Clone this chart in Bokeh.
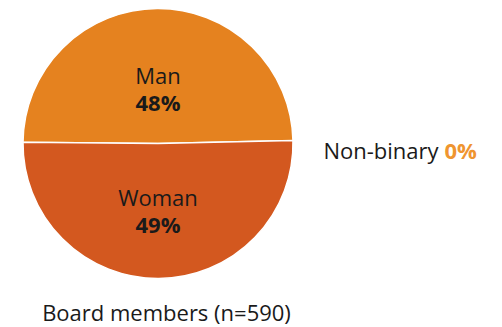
from math import pi

from bokeh.core.properties import value
from bokeh.embed import file_html
from bokeh.models import ColumnDataSource, Range1d
from bokeh.plotting import figure
from bokeh.resources import INLINE

# Share of board members by gender (percent)
categories = ["Man", "Woman", "Non-binary"]
shares = [48, 49, 0]
colors = ["#E5821F", "#D3581F", "#EF9530"]
sample_size = 590

W, H = 502, 327
cx, cy, radius = 157.5, H - 143, 135

total = sum(shares)
start = 1.3 * pi / 180  # slight rotation of the first slice
data = dict(cat=[], share=[], color=[], start=[], end=[])
a = start
for c, s, col in zip(categories, shares, colors):
    sweep = 2 * pi * s / total
    if s > 0:  # an empty slice would otherwise render as a full disc
        data["cat"].append(c)
        data["share"].append(s)
        data["color"].append(col)
        data["start"].append(a)
        data["end"].append(a + sweep)
    a += sweep

src = ColumnDataSource(data)

p = figure(width=W, height=H, output_backend="svg", toolbar_location=None,
           x_range=Range1d(0, W), y_range=Range1d(0, H), min_border=0,
           outline_line_color=None, background_fill_color="white",
           border_fill_color="white")
p.axis.visible = False
p.grid.visible = False

p.wedge(x=cx, y=cy, radius=radius, start_angle="start", end_angle="end",
        fill_color="color", line_color="white", line_width=1.5, source=src)

font = value("Open Sans")
fs = "22px"
dy = 9  # baseline correction
# Slice labels: name above, bold percentage below
name_y = [H - 83 + dy, H - 205 + dy]
pct_y = [H - 110 + dy, H - 232 + dy]
for i in range(2):
    p.text(x=[cx], y=[name_y[i]], text=[categories[i]], text_font=font,
           text_font_size=fs, text_align="center",
           text_baseline="alphabetic", text_color="#1a1a1a")
    p.text(x=[cx], y=[pct_y[i]], text=[f"{shares[i]}%"], text_font=font,
           text_font_size=fs, text_font_style="bold", text_align="center",
           text_baseline="alphabetic", text_color="#1a1a1a")

# Zero-size slice gets an outside label
p.text(x=[438], y=[H - 158 + dy], text=[categories[2]], text_font=font,
       text_font_size=fs, text_align="right", text_baseline="alphabetic",
       text_color="#1a1a1a")
p.text(x=[444], y=[H - 158 + dy], text=[f"{shares[2]}%"], text_font=font,
       text_font_size=fs, text_font_style="bold", text_align="left",
       text_baseline="alphabetic", text_color=colors[2])

p.text(x=[166], y=[H - 320 + dy], text=[f"Board members (n={sample_size})"],
       text_font=font, text_font_size=fs, text_align="center",
       text_baseline="alphabetic", text_color="#1a1a1a")

open("out.html", "w").write(file_html(p, INLINE))
